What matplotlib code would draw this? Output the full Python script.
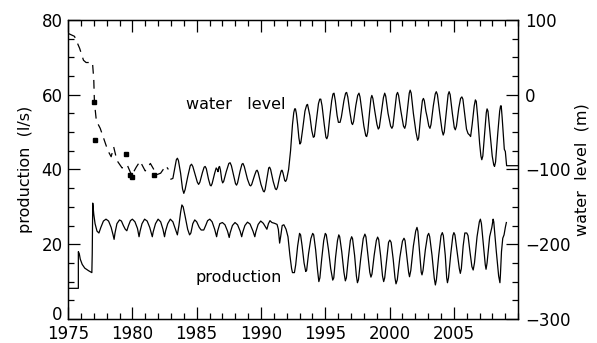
import matplotlib.pyplot as plt
from matplotlib.ticker import MultipleLocator
from matplotlib.transforms import ScaledTranslation

# production (l/s), left axis
prod_year = [1975.0, 1975.8, 1975.8, 1975.87, 1975.95, 1976.1, 1976.3, 1976.6, 1976.85, 1976.88, 1976.92,
             1977.0, 1977.1, 1977.25, 1977.4, 1977.55, 1977.75, 1977.95, 1978.15, 1978.35, 1978.5, 1978.58,
             1978.65, 1978.8, 1979.0, 1979.15, 1979.3, 1979.45, 1979.57, 1979.7, 1979.85, 1980.0, 1980.2,
             1980.4, 1980.52, 1980.6, 1980.75, 1980.95, 1981.15, 1981.35, 1981.55, 1981.62, 1981.8, 1982.0,
             1982.2, 1982.38, 1982.5, 1982.58, 1982.75, 1982.95, 1983.15, 1983.35, 1983.5, 1983.62, 1983.75,
             1983.85, 1983.95, 1984.1, 1984.3, 1984.45, 1984.55, 1984.7, 1984.85, 1985.0, 1985.2, 1985.35,
             1985.55, 1985.7, 1985.85, 1986.02, 1986.2, 1986.4, 1986.55, 1986.63, 1986.8, 1987.0, 1987.2,
             1987.4, 1987.53, 1987.6, 1987.78, 1987.98, 1988.18, 1988.38, 1988.5, 1988.58, 1988.75, 1988.95,
             1989.15, 1989.38, 1989.52, 1989.6, 1989.78, 1989.98, 1990.18, 1990.35, 1990.46, 1990.58, 1990.7,
             1990.85, 1991.05, 1991.25, 1991.35, 1991.45, 1991.55, 1991.65, 1991.78, 1991.95, 1992.1, 1992.25,
             1992.38, 1992.45, 1992.6, 1992.7, 1992.85, 1993.0, 1993.08, 1993.2, 1993.35, 1993.48, 1993.55,
             1993.7, 1993.88, 1994.02, 1994.1, 1994.25, 1994.4, 1994.5, 1994.58, 1994.72, 1994.88, 1995.0,
             1995.08, 1995.25, 1995.42, 1995.58, 1995.66, 1995.8, 1995.95, 1996.05, 1996.12, 1996.28, 1996.45,
             1996.56, 1996.64, 1996.8, 1996.95, 1997.05, 1997.12, 1997.28, 1997.42, 1997.5, 1997.58, 1997.75,
             1997.95, 1998.08, 1998.16, 1998.32, 1998.46, 1998.55, 1998.63, 1998.8, 1998.97, 1999.07, 1999.15,
             1999.3, 1999.45, 1999.54, 1999.62, 1999.78, 1999.92, 2000.02, 2000.12, 2000.28, 2000.42, 2000.5,
             2000.6, 2000.8, 2001.0, 2001.12, 2001.2, 2001.35, 2001.48, 2001.55, 2001.65, 2001.85, 2002.03,
             2002.13, 2002.2, 2002.35, 2002.46, 2002.52, 2002.6, 2002.78, 2002.95, 2003.04, 2003.12, 2003.3,
             2003.47, 2003.56, 2003.64, 2003.82, 2004.0, 2004.1, 2004.18, 2004.33, 2004.44, 2004.5, 2004.58,
             2004.76, 2004.92, 2005.0, 2005.08, 2005.25, 2005.42, 2005.5, 2005.58, 2005.72, 2005.85, 2006.0,
             2006.1, 2006.25, 2006.4, 2006.5, 2006.6, 2006.8, 2006.98, 2007.06, 2007.14, 2007.3, 2007.44,
             2007.5, 2007.58, 2007.78, 2007.95, 2008.05, 2008.1, 2008.15, 2008.3, 2008.48, 2008.58, 2008.62,
             2008.7, 2008.8, 2008.9, 2009.0, 2009.08]
prod_ls = [8.2, 8.2, 18.0, 17.5, 16.0, 14.6, 13.6, 12.9, 12.4, 17.5, 31.0,
           28.0, 25.5, 23.5, 23.0, 24.5, 26.2, 26.7, 26.2, 24.5, 22.5, 21.3,
           23.0, 25.5, 26.5, 26.2, 25.0, 24.0, 23.6, 25.0, 26.3, 26.7, 26.0,
           24.2, 22.0, 23.5, 25.5, 26.7, 26.2, 24.5, 22.0, 23.3, 25.5, 26.7,
           26.0, 24.0, 22.0, 23.5, 25.5, 26.7, 26.0, 24.0, 22.5, 25.0, 28.5,
           30.5, 30.0, 27.5, 24.0, 22.5, 23.0, 25.5, 26.5, 26.0, 24.5, 23.8,
           23.8, 25.0, 26.3, 26.7, 26.0, 24.0, 22.0, 23.5, 25.5, 25.8, 25.2,
           23.5, 21.8, 23.0, 25.0, 25.8, 25.2, 23.5, 22.0, 23.2, 25.0, 25.9,
           25.4, 23.5, 22.0, 23.3, 25.3, 26.2, 25.6, 24.6, 24.0, 25.5, 26.3,
           25.8, 25.6, 25.3, 24.0, 20.3, 22.5, 25.0, 25.2, 24.0, 22.0, 17.0,
           13.5, 12.4, 12.4, 14.5, 19.5, 22.9, 22.5, 19.5, 15.0, 12.7, 13.0,
           17.5, 21.5, 22.9, 22.5, 18.5, 13.0, 10.0, 11.0, 16.0, 21.0, 22.9,
           22.5, 18.5, 13.5, 10.4, 11.0, 16.5, 21.0, 22.5, 22.0, 18.0, 12.5,
           10.2, 11.0, 16.5, 21.0, 22.0, 21.5, 17.0, 11.5, 9.7, 10.5, 16.0,
           21.5, 22.7, 22.0, 17.0, 12.5, 11.2, 12.0, 17.0, 21.0, 21.9, 21.3,
           17.0, 11.5, 10.0, 11.0, 16.0, 20.5, 21.1, 20.5, 16.0, 11.0, 9.4,
           10.5, 16.5, 20.8, 21.6, 21.0, 16.5, 12.5, 11.3, 13.0, 19.5, 23.5,
           24.5, 23.5, 17.0, 12.5, 11.8, 13.0, 18.5, 22.3, 22.9, 22.0, 17.0,
           11.0, 9.1, 10.5, 17.0, 22.3, 23.1, 22.3, 17.0, 11.0, 9.7, 11.0,
           17.5, 22.3, 23.1, 22.5, 18.0, 13.5, 12.2, 13.5, 19.5, 23.0, 23.0,
           22.3, 18.0, 14.0, 13.1, 15.0, 22.0, 26.0, 26.7, 25.5, 19.5, 14.5,
           13.3, 15.0, 22.0, 24.5, 26.7, 26.0, 24.0, 18.0, 11.5, 9.7, 12.0,
           18.0, 21.6, 22.5, 24.5, 25.8]

# water level (m), right axis - early sparse record (dashed)
early_year = [1975.0, 1975.5, 1975.9, 1976.2, 1976.4, 1976.9, 1977.0, 1977.05, 1977.2,
              1977.5, 1977.8, 1978.1, 1978.35, 1978.55, 1978.8, 1979.2, 1979.6, 1979.95,
              1980.3, 1980.6, 1981.0, 1981.4, 1981.9, 1982.2, 1982.6, 1982.8]
early_m = [82, 78, 62, 46, 43, 43, 20, -10, -35,
           -45, -60, -75, -83, -70, -88, -98, -94, -108,
           -97, -89, -102, -92, -107, -105, -95, -100]

# water level (m), continuous record (solid)
wl_year = [1983.0, 1983.15, 1983.3, 1983.42, 1983.5, 1983.58, 1983.75, 1983.9, 1984.0, 1984.1,
           1984.3, 1984.5, 1984.6, 1984.7, 1984.85, 1985.05, 1985.15, 1985.25, 1985.45, 1985.58,
           1985.66, 1985.75, 1985.92, 1986.05, 1986.12, 1986.2, 1986.4, 1986.52, 1986.6, 1986.66,
           1986.72, 1986.78, 1986.85, 1986.95, 1987.02, 1987.1, 1987.3, 1987.5, 1987.6, 1987.7,
           1987.9, 1988.02, 1988.1, 1988.18, 1988.38, 1988.52, 1988.6, 1988.7, 1988.95, 1989.12,
           1989.2, 1989.28, 1989.5, 1989.63, 1989.7, 1989.78, 1990.0, 1990.18, 1990.25, 1990.32,
           1990.5, 1990.6, 1990.67, 1990.75, 1990.95, 1991.12, 1991.2, 1991.28, 1991.45, 1991.57,
           1991.63, 1991.7, 1991.85, 1991.92, 1992.0, 1992.15, 1992.3, 1992.45, 1992.55, 1992.62,
           1992.68, 1992.75, 1992.85, 1992.95, 1993.03, 1993.1, 1993.25, 1993.42, 1993.55, 1993.62,
           1993.7, 1993.8, 1993.95, 1994.07, 1994.15, 1994.3, 1994.47, 1994.57, 1994.65, 1994.75,
           1994.92, 1995.05, 1995.12, 1995.2, 1995.35, 1995.5, 1995.6, 1995.68, 1995.78, 1995.92,
           1996.02, 1996.15, 1996.25, 1996.45, 1996.58, 1996.66, 1996.75, 1996.9, 1997.05, 1997.12,
           1997.2, 1997.38, 1997.52, 1997.62, 1997.7, 1997.85, 1998.0, 1998.15, 1998.22, 1998.3,
           1998.45, 1998.55, 1998.62, 1998.7, 1998.85, 1999.02, 1999.12, 1999.2, 1999.38, 1999.52,
           1999.62, 1999.7, 1999.88, 2000.08, 2000.18, 2000.26, 2000.42, 2000.54, 2000.62, 2000.7,
           2000.88, 2001.08, 2001.18, 2001.26, 2001.42, 2001.53, 2001.6, 2001.68, 2001.85, 2002.05,
           2002.18, 2002.26, 2002.42, 2002.55, 2002.63, 2002.7, 2002.82, 2002.92, 2003.05, 2003.14,
           2003.22, 2003.4, 2003.55, 2003.63, 2003.72, 2003.9, 2004.08, 2004.17, 2004.25, 2004.42,
           2004.55, 2004.63, 2004.71, 2004.88, 2005.03, 2005.11, 2005.2, 2005.38, 2005.52, 2005.62,
           2005.7, 2005.85, 2005.98, 2006.1, 2006.22, 2006.3, 2006.42, 2006.58, 2006.67, 2006.74,
           2006.85, 2007.0, 2007.1, 2007.17, 2007.25, 2007.4, 2007.52, 2007.58, 2007.65, 2007.8,
           2007.98, 2008.1, 2008.16, 2008.24, 2008.42, 2008.56, 2008.63, 2008.68, 2008.75, 2008.85,
           2008.92, 2009.0, 2009.1, 2010.0]
wl_m = [-113, -112, -98, -87, -85, -88, -105, -126, -132, -127,
        -110, -95, -93, -96, -105, -117, -120, -117, -104, -97,
        -96, -99, -113, -121, -122, -119, -105, -98, -100, -103,
        -97, -96, -101, -114, -118, -116, -103, -92, -91, -95,
        -110, -119, -121, -118, -102, -93, -92, -96, -113, -121,
        -122, -120, -108, -102, -101, -104, -120, -129, -130, -127,
        -108, -98, -97, -100, -116, -126, -127, -124, -110, -102,
        -101, -104, -115, -116, -113, -100, -75, -40, -24, -19,
        -19, -25, -40, -58, -66, -64, -45, -22, -14, -13,
        -20, -28, -48, -57, -56, -35, -12, -6, -6, -15,
        -40, -57, -59, -55, -30, -8, 1, 2, -8, -28,
        -37, -37, -30, -8, 2, 3, -3, -22, -38, -40,
        -36, -14, -1, 2, -3, -22, -42, -55, -56, -50,
        -22, -5, -1, -5, -22, -40, -46, -44, -22, -4,
        2, -2, -25, -42, -45, -42, -18, 0, 3, -1,
        -22, -42, -45, -40, -15, 2, 6, 2, -25, -50,
        -61, -58, -28, -8, -5, -8, -22, -30, -42, -45,
        -40, -15, 1, 4, 0, -25, -48, -54, -50, -22,
        0, 4, 0, -25, -44, -47, -42, -18, -5, -3,
        -6, -28, -46, -52, -54, -56, -40, -15, -7, -9,
        -30, -65, -82, -87, -82, -50, -24, -19, -22, -50,
        -82, -94, -96, -90, -50, -22, -15, -15, -30, -55,
        -73, -76, -95, -95]

# individual water level measurements
obs_year = [1977.0, 1977.1, 1979.5, 1979.85, 1979.95, 1981.7]
obs_m = [-10, -60, -80, -108, -110, -108]

plt.rcParams['font.family'] = 'DejaVu Sans'

fig = plt.figure(figsize=(5.97, 3.43), dpi=100)
ax = fig.add_axes([0.114, 0.070, 0.754, 0.872])
ax2 = ax.twinx()

ax.plot(prod_year, prod_ls, color='black', lw=0.9)
ax2.plot(early_year, early_m, color='black', lw=0.9, dashes=(7, 5))
ax2.plot(wl_year, wl_m, color='black', lw=0.9)
ax2.plot(obs_year, obs_m, 's', color='black', ms=3.5, mec='black')

ax.set_xlim(1975, 2010)
ax.set_ylim(0, 80)
ax2.set_ylim(-300, 100)

ax.set_xticks(range(1975, 2010, 5))
ax.xaxis.set_minor_locator(MultipleLocator(1))
ax.set_yticks([0, 20, 40, 60, 80])
ax.yaxis.set_minor_locator(MultipleLocator(5))
ax2.yaxis.set_major_locator(MultipleLocator(100))
ax2.yaxis.set_minor_locator(MultipleLocator(25))

ax.tick_params(which='both', direction='in', top=True, right=False, labelsize=12, pad=4)
ax.tick_params(which='major', length=8.5, width=0.9)
ax.tick_params(which='minor', length=4.3, width=0.9)
ax2.tick_params(which='both', direction='in', labelsize=12, pad=5)
ax2.tick_params(which='major', length=8.5, width=0.9)
ax2.tick_params(which='minor', length=4.3, width=0.9)

# lift the "0" a little so it clears the "1975" below it
zero_lbl = ax.yaxis.get_major_ticks()[0].label1
zero_lbl.set_transform(zero_lbl.get_transform() + ScaledTranslation(0, 4 / 72, fig.dpi_scale_trans))

ax.set_ylabel('production  (l/s)', fontsize=11.5, labelpad=6)
ax2.set_ylabel('water  level  (m)', fontsize=11.5, labelpad=3)

ax.text(1988.0, 57.3, 'water   level', fontsize=11.5, ha='center', va='center')
ax.text(1988.3, 11.2, 'production', fontsize=11.5, ha='center', va='center')

for a in (ax, ax2):
    for s in a.spines.values():
        s.set_linewidth(0.9)

fig.savefig('out.png', dpi=100)
